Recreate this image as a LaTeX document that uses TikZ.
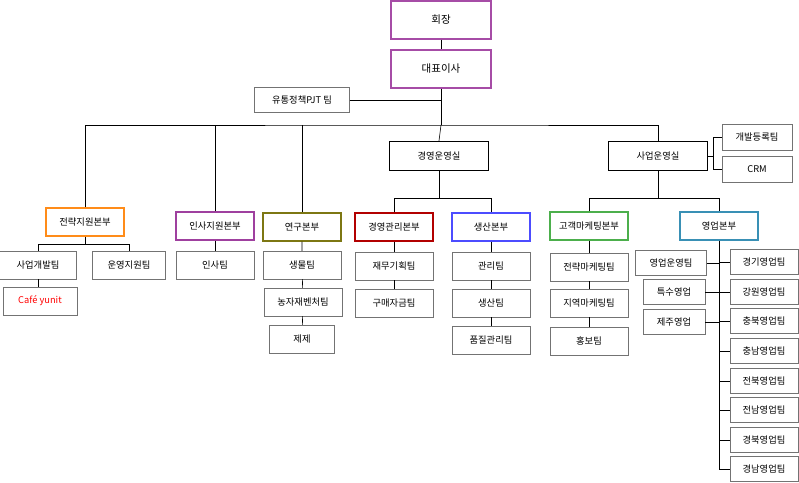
\documentclass[tikz,border=0pt]{standalone}
\usepackage{fontspec}
\setmainfont{Noto Sans CJK KR}
\usetikzlibrary{positioning}

\begin{document}
\begin{tikzpicture}[x=1pt,y=-1pt,font=\fontsize{9.3}{11}\selectfont,semithick]
  \tikzstyle{box}=[rectangle,draw=black!55,thin,inner sep=0pt]
  \tikzstyle{top box}=[rectangle,draw=violet!70,line width=1.4pt,minimum width=100pt,minimum height=38pt,font=\fontsize{10.5}{12}\selectfont]
  \tikzstyle{office}=[rectangle,draw=black,line width=1.4pt,minimum width=99pt,minimum height=29pt]
  \tikzstyle{div}=[rectangle,line width=1.1pt,minimum width=78pt,minimum height=28pt]
  \tikzstyle{team}=[box,minimum width=78pt,minimum height=28pt]
  \tikzstyle{sales}=[box,minimum width=68pt,minimum height=25pt]
  \useasboundingbox (0,0) rectangle (799,482);

  \node[top box] (ceo) at (441,20) {회장};
  \node[top box] (rep) at (441,69) {대표이사};
  \node[box,minimum width=95pt,minimum height=25pt] (pjt) at (302,100) {유통정책PJT 팀};
  \node[office] (gy) at (439,156) {경영운영실};
  \node[office] (sy) at (658,156) {사업운영실};
  \node[box,minimum width=70pt,minimum height=26pt] (dev) at (757,137) {개발등록팀};
  \node[box,minimum width=70pt,minimum height=26pt] (crm) at (757,169) {CRM};

  \node[div,draw=orange!90] (jr) at (85,222) {전략지원본부};
  \node[div,draw=violet!75] (is) at (215,226) {인사지원본부};
  \node[div,draw=olive!85!black] (rd) at (302,227) {연구본부};
  \node[div,draw=red!70!black] (gm) at (394,227) {경영관리본부};
  \node[div,draw=blue!70] (pr) at (491,227) {생산본부};
  \node[div,draw=green!55!black!70] (cm) at (589,226) {고객마케팅본부};
  \node[div,draw=cyan!70!black] (sl) at (719,226) {영업본부};

  \node[team,minimum width=77pt] (biz) at (38,265) {사업개발팀};
  \node[team,minimum width=73pt] (op) at (129,265) {운영지원팀};
  \node[team,minimum width=74pt,text=red] (cafe) at (40,301) {Café yunit};
  \node[team] (hr) at (215,265) {인사팀};
  \node[team] (bio) at (302,265) {생물팀};
  \node[team] (agri) at (303,302) {농자재벤처팀};
  \node[team,minimum width=65pt] (jeje) at (302,339) {제제};
  \node[team] (fin) at (394,266) {재무기획팀};
  \node[team] (buy) at (394,303) {구매자금팀};
  \node[team] (mgt) at (491,266) {관리팀};
  \node[team] (prd) at (491,303) {생산팀};
  \node[team] (qc) at (491,340) {품질관리팀};
  \node[team] (smk) at (589,267) {전략마케팅팀};
  \node[team] (lmk) at (589,303) {지역마케팅팀};
  \node[team] (pub) at (589,341) {홍보팀};

  \node[sales,minimum width=71pt] (sop) at (671,263) {영업운영팀};
  \node[sales,minimum width=62pt] (spc) at (674,292) {특수영업};
  \node[sales,minimum width=62pt] (jej) at (674,322) {제주영업};
  \node[sales] (r1) at (764,262) {경기영업팀};
  \node[sales] (r2) at (764,292) {강원영업팀};
  \node[sales] (r3) at (764,321) {충북영업팀};
  \node[sales] (r4) at (764,351) {충남영업팀};
  \node[sales] (r5) at (764,381) {전북영업팀};
  \node[sales] (r6) at (764,410) {전남영업팀};
  \node[sales] (r7) at (764,440) {경북영업팀};
  \node[sales] (r8) at (764,469) {경남영업팀};
  \coordinate (bus) at (441,125);
  \coordinate (spine) at (719,469);

  % top
  \draw (ceo) -- (rep);
  \draw (rep) -- (bus);
  \draw (pjt) -- (pjt -| bus);
  \draw (jr.north) |- (bus) -| (sy.north);
  \draw (bus) -- (gy.north);
  \foreach \n in {is,rd} \draw (\n.north) -- (\n.north |- bus);
  \draw (sy.east) -- ++(5,0) coordinate (sr);
  \draw (dev.west) -| (sr) |- (crm.west);

  % offices
  \draw (gy.south) -- ++(0,27) coordinate (g1);
  \draw (gm.north) |- (g1) -| (pr.north);
  \draw (sy.south) -- ++(0,27) coordinate (s1);
  \draw (cm.north) |- (s1) -| (sl.north);

  % divisions
  \draw (jr.south) -- ++(0,8) coordinate (j1);
  \draw (biz.north) |- (j1) -| (op.north);
  \draw (biz.south) -- (biz.south |- cafe.north);
  \draw (is) -- (hr);
  \draw (rd) -- (bio) -- (agri) -- (jeje);
  \draw (gm) -- (fin) -- (buy);
  \draw (pr) -- (mgt) -- (prd) -- (qc);
  \draw (cm) -- (smk) -- (lmk) -- (pub);
  \draw (sl.south) -- (spine);
  \foreach \n in {r1,r2,r3,r4,r5,r6,r7,r8} \draw (\n.west) -- (\n.west -| spine);
  \foreach \n in {sop,spc,jej} \draw (\n.east) -- (\n.east -| spine);
\end{tikzpicture}
\end{document}
